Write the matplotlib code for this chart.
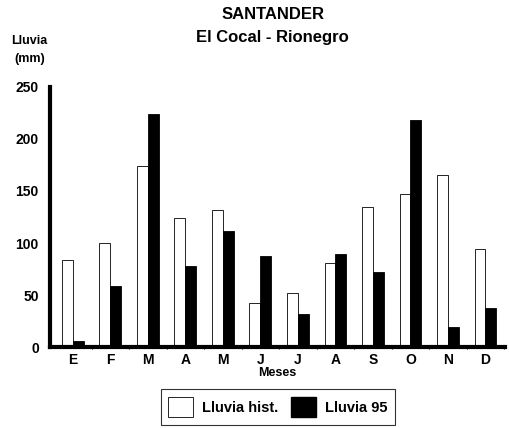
import matplotlib
matplotlib.use("Agg")
import matplotlib.pyplot as plt
import numpy as np
from matplotlib.patches import Patch

months = ["E", "F", "M", "A", "M", "J", "J", "A", "S", "O", "N", "D"]
lluvia_hist = [84, 100, 174, 124, 132, 42, 52, 81, 135, 147, 165, 94]
lluvia_95 = [6, 59, 224, 78, 112, 88, 32, 89, 72, 218, 19, 38]
yticks = [0, 50, 100, 150, 200, 250]

plt.rcParams['font.family'] = ['Liberation Sans', 'DejaVu Sans']
plt.rcParams['font.weight'] = 'bold'

fig = plt.figure(figsize=(5.10, 4.28), dpi=100)
ax = fig.add_axes([0.098, 0.189, 0.892, 0.608])

x = np.arange(len(months))
w = 0.29
ax.bar(x - w / 2, lluvia_hist, width=w, facecolor='white', edgecolor='black', linewidth=0.6, label='Lluvia hist.')
ax.bar(x + w / 2, lluvia_95, width=w, facecolor='black', edgecolor='black', linewidth=0.6, label='Lluvia 95')

ax.set_xlim(-0.61, 11.52)
ax.set_ylim(0, 250)
ax.set_yticks(yticks)
ax.set_yticklabels([str(v) for v in yticks], fontsize=10, fontweight='bold')
ax.set_xticks(x)
ax.set_xticklabels(months, fontsize=10, fontweight='bold')
ax.tick_params(axis='x', length=0, pad=4)
ax.tick_params(axis='y', length=0, pad=8)
ax.set_xticks(x + 0.5, minor=True)
ax.tick_params(axis='x', which='minor', length=3, width=0.8, direction='inout')

for s in ['top', 'right']:
    ax.spines[s].set_visible(False)
ax.spines['left'].set_linewidth(3)
ax.spines['bottom'].set_linewidth(3)

ax.set_xlabel('Meses', fontsize=9, fontweight='bold', labelpad=0)

fig.text(0.535, 0.965, 'SANTANDER', ha='center', va='center', fontsize=12, fontweight='bold')
fig.text(0.535, 0.913, 'El Cocal - Rionegro', ha='center', va='center', fontsize=12, fontweight='bold')
fig.text(0.058, 0.905, 'Lluvia', ha='center', va='center', fontsize=9, fontweight='bold')
fig.text(0.058, 0.862, '(mm)', ha='center', va='center', fontsize=9, fontweight='bold')

handles = [Patch(facecolor='white', edgecolor='black', linewidth=0.6),
           Patch(facecolor='black', edgecolor='black')]
leg = fig.legend(handles, ['Lluvia hist.', 'Lluvia 95'], loc='center', bbox_to_anchor=(0.545, 0.049),
                 ncol=2, frameon=True, fancybox=False, edgecolor='black', fontsize=10.5,
                 handlelength=1.7, handleheight=1.8, columnspacing=0.9, handletextpad=0.6,
                 borderpad=0.5, borderaxespad=0.2)
leg.get_frame().set_linewidth(0.8)
for t in leg.get_texts():
    t.set_fontweight('bold')

fig.savefig('out.png', dpi=100)
